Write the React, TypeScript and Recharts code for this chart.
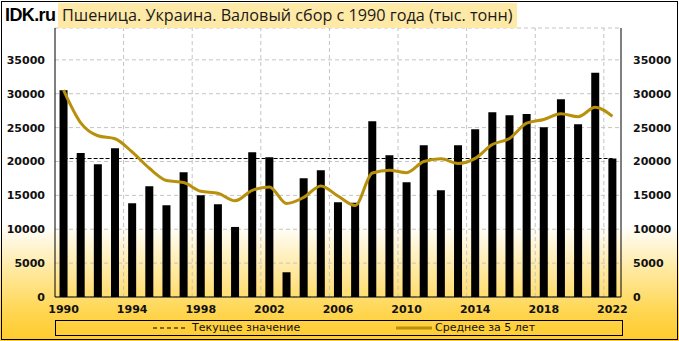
import React from 'react';
import { ComposedChart, Bar, Line, XAxis, YAxis, CartesianGrid, ReferenceLine } from 'recharts';

const years = ['1990','1991','1992','1993','1994','1995','1996','1997','1998','1999','2000','2001','2002','2003','2004','2005','2006','2007','2008','2009','2010','2011','2012','2013','2014','2015','2016','2017','2018','2019','2020','2021','2022'];

const harvest = [30530, 21270, 19600, 21960, 13840, 16350, 13540, 18420, 15020, 13690, 10340, 21370, 20640, 3650, 17530, 18710, 13990, 13900, 25950, 20930, 16940, 22400, 15760, 22400, 24770, 27280, 26840, 26990, 25070, 29200, 25500, 33090, 20440];

const average5 = [30530, 25700, 23800, 23350, 21400, 19000, 17200, 16900, 15600, 15300, 14200, 15750, 16250, 13800, 14700, 16400, 14900, 13500, 18300, 18700, 18350, 20000, 20400, 19700, 20450, 22500, 23400, 25650, 26200, 27050, 26600, 28000, 26650];

const yTicks = [0, 5000, 10000, 15000, 20000, 25000, 30000, 35000];
// vertical grid lines sit at the left edge of these year categories
const gridYears = ['1994', '1998', '2002', '2006', '2010', '2014', '2018', '2022'];
const currentValue = harvest[harvest.length - 1];

const data = years.map((y, i) => ({ year: y, harvest: harvest[i], avg: average5[i] }));

const tickStyle = { fontFamily: 'DejaVu Sans', fontWeight: 700, fontSize: 11, fill: '#111' };

export default function App() {
  return (
    <div style={{ position: 'absolute', left: 0, top: 0, width: 679, height: 341, overflow: 'hidden',
      background: 'linear-gradient(to bottom, #ffffff 0%, #ffffff 66%, #FFEBA8 78%, #FFD54E 92%, #FFCB2C 100%)' }}>
      <ComposedChart width={679} height={341} data={data} margin={{ top: 28, right: 0, bottom: 0, left: 0 }} barCategoryGap="26.5%">
        <CartesianGrid xAxisId="cat" yAxisId="left" vertical={false} stroke="#c4c4c4" strokeDasharray="4 3" />
        <XAxis dataKey="year" xAxisId="cat" interval={3} tickLine={false} axisLine={{ stroke: '#000' }} height={44} tick={tickStyle} tickMargin={2} />
        <XAxis dataKey="year" xAxisId="top" orientation="top" tick={false} tickLine={false} axisLine={{ stroke: '#000' }} height={0} />
        <YAxis yAxisId="left" domain={[0, 39700]} allowDataOverflow ticks={yTicks} interval={0} width={55} tickLine={false} axisLine={{ stroke: '#000' }} tick={tickStyle} tickMargin={4} />
        <YAxis yAxisId="right" orientation="right" domain={[0, 39700]} allowDataOverflow ticks={yTicks} interval={0} width={58} tickLine={false} axisLine={{ stroke: '#000' }} tick={{ ...tickStyle, textAnchor: 'start' }} tickMargin={6} />
        {gridYears.map((y) => (
          <ReferenceLine key={'g' + y} xAxisId="cat" yAxisId="left" ifOverflow="visible"
            segment={[{ x: y, y: 0 }, { x: y, y: 39700 }]} position="start" stroke="#c4c4c4" strokeWidth={1} strokeDasharray="4 3" />
        ))}
        <Bar dataKey="harvest" xAxisId="cat" yAxisId="left" fill="#000" isAnimationActive={false} />
        <ReferenceLine xAxisId="cat" yAxisId="left" segment={[{ x: years[0], y: currentValue }, { x: years[years.length - 1], y: currentValue }]} stroke="#000" strokeWidth={1} strokeDasharray="4 2" />
        <Line dataKey="avg" xAxisId="cat" yAxisId="left" type="monotone" stroke="#B8900B" strokeWidth={3} dot={false} activeDot={false} isAnimationActive={false} />
      </ComposedChart>

      <div style={{ position: 'absolute', left: 5, top: 3, height: 25, lineHeight: '25px', fontFamily: 'Liberation Sans', fontWeight: 700, fontSize: 18, letterSpacing: -0.6, color: '#000' }}>IDK.ru</div>
      <div style={{ position: 'absolute', left: 58, top: 3, width: 459, height: 25, background: '#FFE9A6', boxSizing: 'border-box', paddingLeft: 4, lineHeight: '25px', fontFamily: 'Open Sans', fontSize: 16.2, color: '#1a1a1a', whiteSpace: 'nowrap' }}>
        Пшеница. Украина. Валовый сбор с 1990 года (тыс. тонн)
      </div>

      <div style={{ position: 'absolute', left: 55, top: 320, width: 568, height: 16, border: '1px solid #000', boxSizing: 'border-box', fontFamily: 'DejaVu Sans', fontSize: 11, color: '#111' }}>
        <svg style={{ position: 'absolute', left: 97, top: 0 }} width={34} height={14}>
          <line x1={0} y1={7} x2={34} y2={7} stroke="#000" strokeWidth={1} strokeDasharray="4 3" />
        </svg>
        <span style={{ position: 'absolute', left: 136, top: 0, lineHeight: '14px', whiteSpace: 'nowrap' }}>Текущее значение</span>
        <svg style={{ position: 'absolute', left: 340, top: 0 }} width={36} height={14}>
          <line x1={0} y1={7} x2={36} y2={7} stroke="#B8900B" strokeWidth={3} />
        </svg>
        <span style={{ position: 'absolute', left: 379, top: 0, lineHeight: '14px', whiteSpace: 'nowrap' }}>Среднее за 5 лет</span>
      </div>

      <div style={{ position: 'absolute', left: 1, top: 1, width: 677, height: 339, border: '1px solid #000', boxSizing: 'border-box', pointerEvents: 'none' }} />
    </div>
  );
}
